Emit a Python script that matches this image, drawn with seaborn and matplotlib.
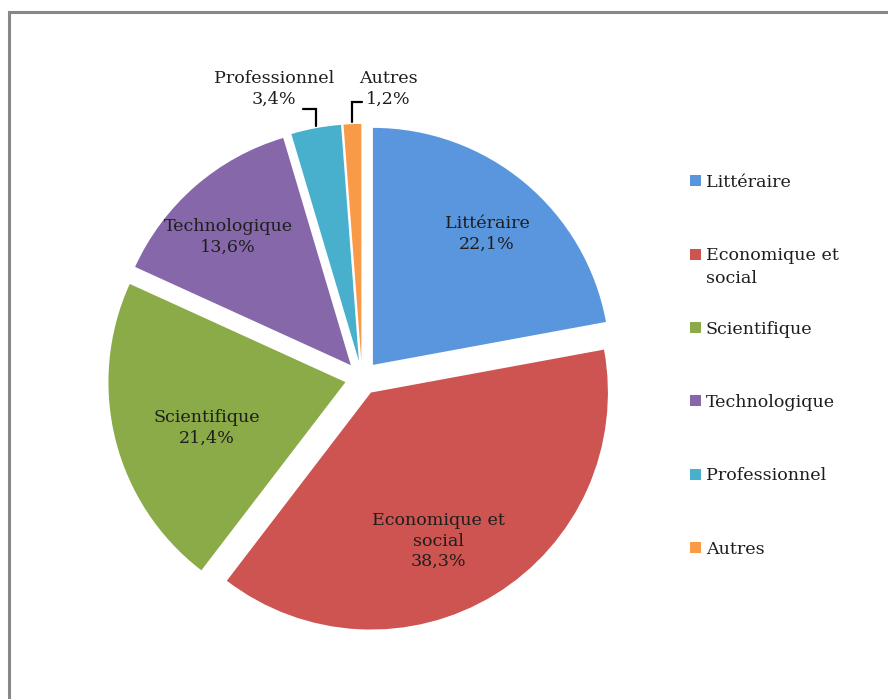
import matplotlib
matplotlib.use("Agg")
import matplotlib.pyplot as plt
import seaborn as sns
import numpy as np
from matplotlib.patches import Rectangle

sns.set_style("white")
plt.rcParams['font.family'] = ['DejaVu Serif', 'Liberation Serif']

categories = ["Littéraire", "Economique et\nsocial", "Scientifique", "Technologique", "Professionnel", "Autres"]
values = [22.1, 38.3, 21.4, 13.6, 3.4, 1.2]
colors = ["#5A96DE", "#CD5450", "#8BAA48", "#8667AA", "#48B0CC", "#F99A48"]
small = [False, False, False, False, True, True]

W, H = 888, 699
FS = 12.6
TC = "#1e1e1e"
fig = plt.figure(figsize=(W / 100, H / 100), dpi=100)

cx, cy, R = 362, 378, 237
lim = 1.3
ax = fig.add_axes([(cx - lim * R) / W, (H - cy - lim * R) / H, 2 * lim * R / W, 2 * lim * R / H])

def fmt_pct(v):
    return f"{v:.1f}".replace(".", ",") + "%"

def to_data(px, py):
    return ((px - cx) / R, (cy - py) / R)

it = iter(range(len(values)))
def autopct(p):
    i = next(it)
    if small[i]:
        return ""
    return f"{categories[i]}\n{fmt_pct(values[i])}"

wedges, texts, autotexts = ax.pie(values, colors=colors, startangle=90, counterclock=False,
                                  explode=[0.072] * len(values), autopct=autopct,
                                  pctdistance=0.7, radius=1,
                                  wedgeprops=dict(linewidth=0),
                                  textprops=dict(fontsize=FS, color=TC, ha="center", va="center",
                                                 linespacing=1.25))
ax.set_xlim(-lim, lim)
ax.set_ylim(-lim, lim)
ax.set_aspect("auto")
ax.axis("off")

# inside label placement (layout only)
label_px = [(487, 234), (438, 541), (207, 428), (228, 237)]
for t, (px, py) in zip(autotexts[:4], label_px):
    t.set_position(to_data(px, py))

def outer_tip(w):
    ang = np.deg2rad((w.theta1 + w.theta2) / 2)
    ox, oy = w.center
    return (ox + w.r * np.cos(ang), oy + w.r * np.sin(ang))

# Professionnel
tip = outer_tip(wedges[4])
ax.text(*to_data(274, 89), f"{categories[4]}\n{fmt_pct(values[4])}", ha="center", va="center",
        fontsize=FS, color=TC, linespacing=1.25)
h0 = to_data(303, 109)
ax.plot([h0[0], tip[0], tip[0]], [h0[1], h0[1], tip[1] + 0.01], color="black", lw=1.6,
        solid_joinstyle="miter")

# Autres
tip = outer_tip(wedges[5])
ax.text(*to_data(388, 89), f"{categories[5]}\n{fmt_pct(values[5])}", ha="center", va="center",
        fontsize=FS, color=TC, linespacing=1.25)
h0 = to_data(362, 102)
ax.plot([h0[0], tip[0], tip[0]], [h0[1], h0[1], tip[1] + 0.01], color="black", lw=1.6,
        solid_joinstyle="miter")

# legend (first line of each label; second line of the two-line label added beneath)
leg_labels = [c.split("\n")[0] for c in categories]
leg = fig.legend(wedges, leg_labels, loc="upper left", bbox_to_anchor=(683 / W, 1 - 167 / H),
                 frameon=False, fontsize=FS, handlelength=0.6, handleheight=0.6,
                 handletextpad=0.3, labelspacing=3.22, borderaxespad=0)
for t in leg.get_texts():
    t.set_color(TC)
fig.canvas.draw()
for t, full in zip(leg.get_texts(), categories):
    lines = full.split("\n")
    if len(lines) > 1:
        bb = t.get_window_extent()
        for k, extra in enumerate(lines[1:], start=1):
            fig.text(bb.x0 / W, (bb.y0 - k * 23) / H, extra, fontsize=FS, color=TC,
                     ha="left", va="bottom")

# outer frame
fig.patches.append(Rectangle((9 / W, -0.05), 1.2, 1 - 12 / H + 0.05, transform=fig.transFigure,
                             fill=False, edgecolor="#888888", linewidth=2.2))

fig.savefig("out.png", dpi=100, facecolor="white")
